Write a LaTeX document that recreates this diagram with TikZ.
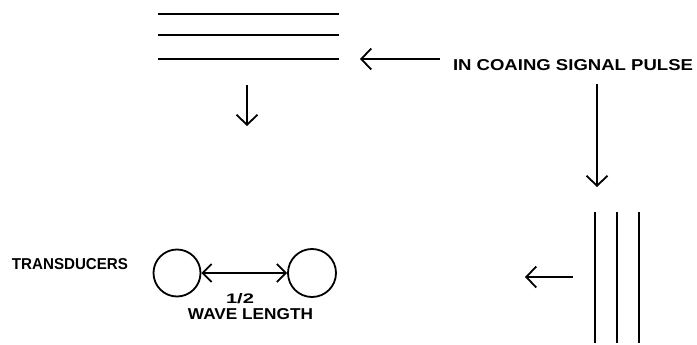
\documentclass[tikz,border=0pt]{standalone}
\usepackage{fontspec}
\setmainfont{Liberation Sans}
\usetikzlibrary{arrows.meta}
% label stretched to a given width and cap height (in pt)
\newcommand{\plotlabel}[3]{\resizebox{#1pt}{#2pt}{#3}}
\tikzset{
  wire/.style={line width=1.8pt},
  barb/.style={line width=1.8pt,-{Straight Barb[length=10pt,width=21pt,line width=1.8pt]}},
  dbarb/.style={line width=1.8pt,{Straight Barb[length=9pt,width=18pt,line width=1.8pt]}-{Straight Barb[length=9pt,width=18pt,line width=1.8pt]}},
  txt/.style={inner sep=0pt,outer sep=0pt,font=\bfseries},
  transducer/.style={circle,draw,line width=1.8pt,inner sep=0pt}
}
\begin{document}
\begin{tikzpicture}[x=1pt,y=-1pt]
  \useasboundingbox (0,0) rectangle (697,345);

  % incoming wavefronts (horizontal)
  \draw[wire] (158,14) -- (339,14);
  \draw[wire] (158,35) -- (339,35);
  \draw[wire] (158,59) -- (339,59);

  % signal label and its arrows
  \node[txt] (sig) at (573,65.5) {\plotlabel{240}{11}{IN COAING SIGNAL PULSE}};
  \coordinate (sigL) at (440,59);
  \coordinate (waveR) at (360,59);
  \draw[barb] (sigL) -- (waveR);
  \coordinate (sigD) at (597,84);
  \coordinate (vtop) at (597,187);
  \draw[barb] (sigD) -- (vtop);

  % downward arrow under horizontal wavefronts
  \coordinate (hdA) at (247,85);
  \coordinate (hdB) at (247,126);
  \draw[barb] (hdA) -- (hdB);

  % vertical wavefronts
  \draw[wire] (595,212) -- (595,343);
  \draw[wire] (617,212) -- (617,343);
  \draw[wire] (639,212) -- (639,343);

  % leftward arrow beside vertical wavefronts
  \coordinate (vlA) at (573,277);
  \coordinate (vlB) at (525,277);
  \draw[barb] (vlA) -- (vlB);

  % transducers
  \node[txt] (tlab) at (70,264) {\plotlabel{116}{11}{TRANSDUCERS}};
  \node[transducer,minimum size=47pt] (t1) at (177,273) {};
  \node[transducer,minimum size=48pt] (t2) at (312,273) {};
  \draw[dbarb] (t1) -- (t2);
  \node[txt] (half) at (240,298.5) {\plotlabel{28}{10}{1/2}};
  \node[txt] (wl) at (250.5,314.5) {\plotlabel{125}{11}{WAVE LENGTH}};
\end{tikzpicture}
\end{document}
